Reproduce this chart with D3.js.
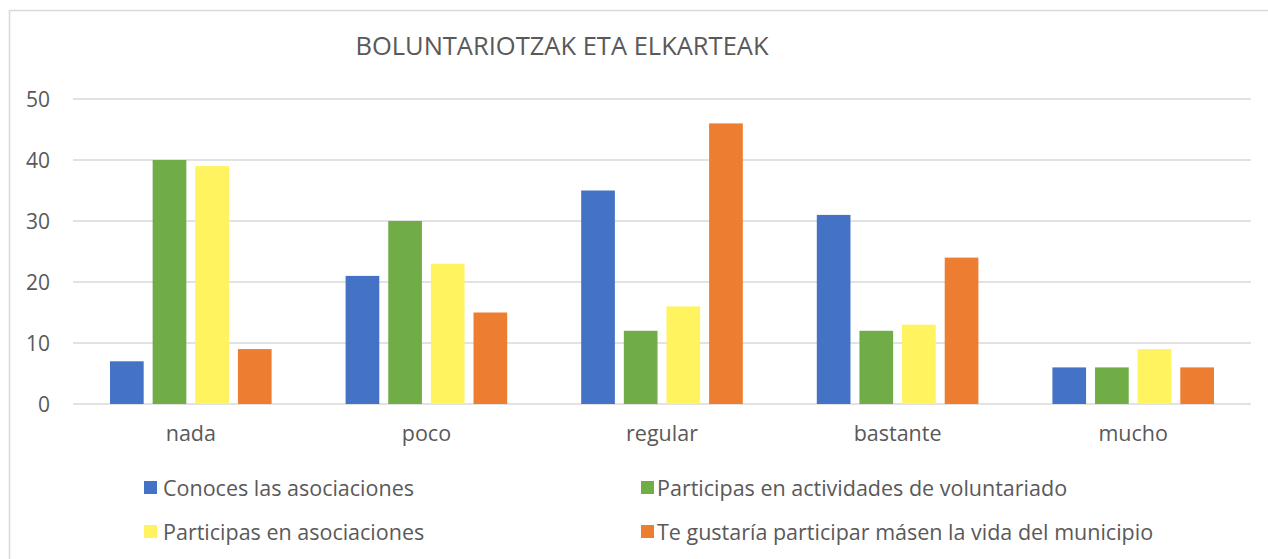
<!DOCTYPE html>
<html>
<head>
<meta charset="utf-8">
<script src="https://cdn.jsdelivr.net/npm/d3@7"></script>
<style>
  body { margin: 0; background: #fff; }
  svg text { font-family: "Open Sans", sans-serif; fill: #595959; }
</style>
</head>
<body>
<div id="chart"></div>
<script>
// data
const categories = ["nada", "poco", "regular", "bastante", "mucho"];
const seriesNames = [
  "Conoces las asociaciones",
  "Participas en actividades de voluntariado",
  "Participas en asociaciones",
  "Te gustaría participar másen la vida del municipio"
];
const conoces = [7, 21, 35, 31, 6];
const voluntariado = [40, 30, 12, 12, 6];
const asociaciones = [39, 23, 16, 13, 9];
const gustaria = [9, 15, 46, 24, 6];
const yTicks = [0, 10, 20, 30, 40, 50];
const colors = ["#4472C4", "#70AD47", "#FFF35F", "#ED7D31"];

const seriesValues = [conoces, voluntariado, asociaciones, gustaria];

//dims
const width = 1268, height = 559;
const margin = { top: 99, right: 17, bottom: 155, left: 73 };

const svg = d3.select("#chart")
  .append("svg")
  .attr("width", width)
  .attr("height", height);

// frame
svg.append("rect")
  .attr("x", 9.5).attr("y", 10.5)
  .attr("width", width + 10).attr("height", height)
  .attr("fill", "none")
  .attr("stroke", "#d9d9d9")
  .attr("stroke-width", 1.5);

const x = d3.scaleBand()
  .domain(categories)
  .range([margin.left, width - margin.right])
  .padding(0);

const xs = d3.scaleBand()
  .domain(d3.range(seriesNames.length))
  .range([37, x.bandwidth() - 37])
  .paddingInner(0.21);

const y = d3.scaleLinear()
  .domain([0, 50])
  .range([height - margin.bottom, margin.top]);

// gridlines
svg.append("g")
  .selectAll("line")
  .data(yTicks)
  .join("line")
  .attr("x1", margin.left)
  .attr("x2", width - margin.right)
  .attr("y1", d => y(d))
  .attr("y2", d => y(d))
  .attr("stroke", "#d9d9d9")
  .attr("stroke-width", 1.5);

// y axis labels
svg.append("g")
  .attr("transform", `translate(${margin.left - 23},0)`)
  .call(d3.axisLeft(y).tickValues(yTicks).tickSize(0).tickPadding(0))
  .call(g => g.select(".domain").remove())
  .selectAll("text")
  .style("font-size", "21px")
  .attr("dy", "0.35em");

// bars
const groups = svg.append("g")
  .selectAll("g")
  .data(categories)
  .join("g")
  .attr("transform", d => `translate(${x(d)},0)`);

groups.selectAll("rect")
  .data((c, ci) => seriesValues.map((vals, si) => ({ si, value: vals[ci] })))
  .join("rect")
  .attr("x", d => xs(d.si))
  .attr("width", xs.bandwidth())
  .attr("y", d => y(d.value))
  .attr("height", d => y(0) - y(d.value))
  .attr("fill", d => colors[d.si]);

// x axis labels
svg.append("g")
  .attr("transform", `translate(0,${y(0) + 17})`)
  .call(d3.axisBottom(x).tickSize(0).tickPadding(0))
  .call(g => g.select(".domain").remove())
  .selectAll("text")
  .style("font-size", "21.5px")
  .attr("dy", "0.95em");

// title
svg.append("text")
  .attr("x", 562)
  .attr("y", 55)
  .attr("text-anchor", "middle")
  .style("font-size", "25.5px")
  .text("BOLUNTARIOTZAK ETA ELKARTEAK");

// legend
const legendPos = [[144, 488], [641, 488], [144, 532], [641, 532]];
const legend = svg.append("g")
  .selectAll("g")
  .data(seriesNames)
  .join("g")
  .attr("transform", (d, i) => `translate(${legendPos[i][0]},${legendPos[i][1]})`);

legend.append("rect")
  .attr("x", 0).attr("y", -7)
  .attr("width", 13).attr("height", 13)
  .attr("fill", (d, i) => colors[i]);

legend.append("text")
  .attr("x", (d, i) => i % 2 ? 16 : 19)
  .attr("y", 0)
  .attr("dy", "0.35em")
  .style("font-size", "21.5px")
  .text(d => d);
</script>
</body>
</html>
